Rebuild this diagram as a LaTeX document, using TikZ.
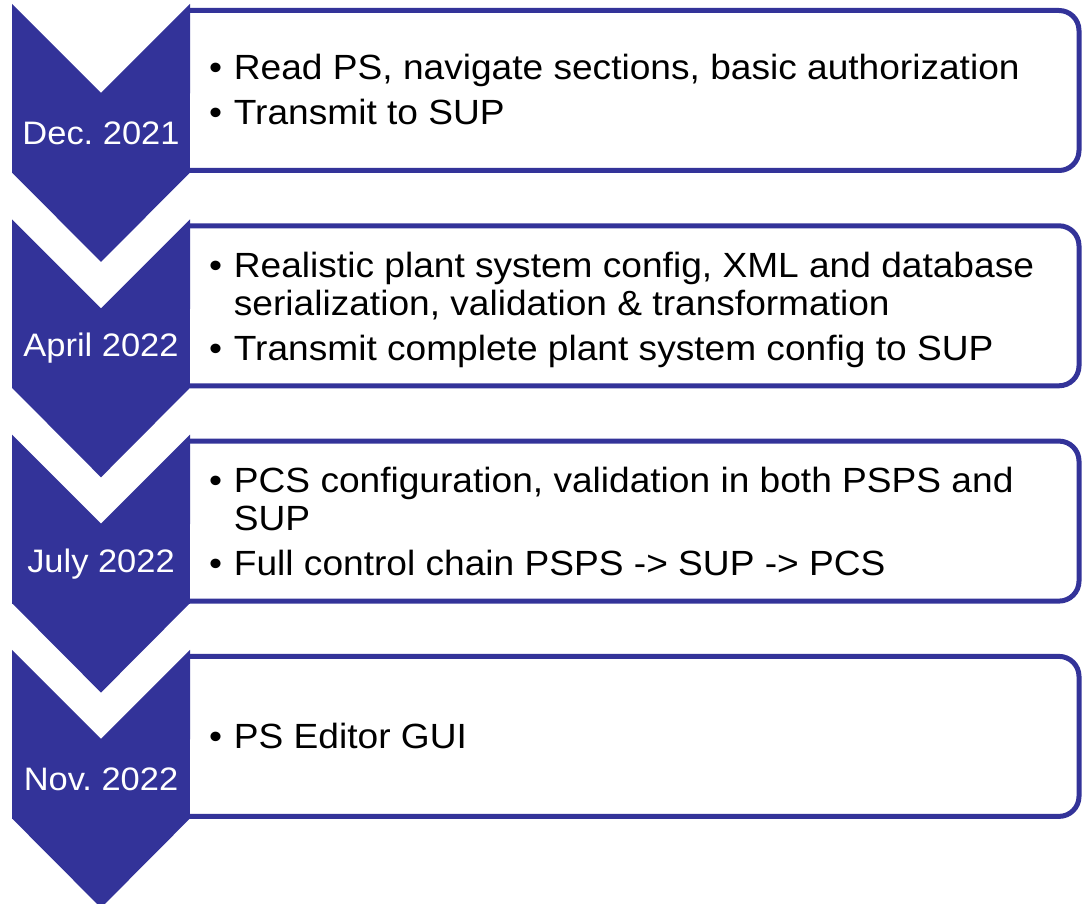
\documentclass[tikz,border=0pt]{standalone}
\usepackage{fontspec}
\setmainfont[FakeStretch=1.06]{Liberation Sans}
\frenchspacing
\usetikzlibrary{calc}
\definecolor{ppblue}{RGB}{51,51,153}
\tikzstyle{datebox} = [rectangle, minimum width=178pt, minimum height=80pt, inner sep=0pt, outer sep=0pt, text centered, fill=ppblue, text=white, font=\fontsize{32.5pt}{36pt}\selectfont]
\tikzstyle{stagebox} = [rectangle, minimum width=889pt, minimum height=160pt, inner sep=0pt, outer sep=0pt]
\tikzstyle{boxline} = [draw=ppblue, line width=5pt, rounded corners=20pt]
\tikzstyle{items} = [anchor=base west, inner sep=0pt, align=left, font=\fontsize{35pt}{38pt}\selectfont]
\newcommand{\itm}{\textbullet}

\begin{document}
\begin{tikzpicture}[x=1pt, y=1pt, node distance=215.3pt]
\useasboundingbox (0,0) rectangle (1082,-904);

\node (boxdec) [stagebox] at (634.5,-90.5) {};
\node (boxapr) [stagebox, below of=boxdec] {};
\node (boxjul) [stagebox, below of=boxapr] {};
\node (boxnov) [stagebox, below of=boxjul] {};

\draw [boxline] (boxdec.north west) -- (boxdec.north east) -- (boxdec.south east) -- (boxdec.south west);
\draw [boxline] (boxapr.north west) -- (boxapr.north east) -- (boxapr.south east) -- (boxapr.south west);
\draw [boxline] (boxjul.north west) -- (boxjul.north east) -- (boxjul.south east) -- (boxjul.south west);
\draw [boxline] (boxnov.north west) -- (boxnov.north east) -- (boxnov.south east) -- (boxnov.south west);

\node (dec) [datebox] at (101,-133) {Dec. 2021};
\node (apr) [datebox, below of=dec] {April 2022};
\node (jul) [datebox, below of=apr] {July 2022};
\node (nov) [datebox, below of=jul] {Nov. 2022};

% chevron ends
\foreach \d in {dec,apr,jul,nov} {
  \fill [ppblue] ([yshift=-0.5pt]\d.north west) -- ++(0,89.5) -- (\d.north) -- ($(\d.north east)+(0,89)$) -- ([yshift=-0.5pt]\d.north east) -- cycle;
  \fill [ppblue] ([yshift=0.5pt]\d.south west) -- ([yshift=0.5pt]\d.south east) -- ($(\d.south)+(0,-89)$) -- cycle;
}

\node (txtdec) [items] at (209,-80) {\begin{tabular}[t]{@{}l@{\hspace{11.75pt}}l@{}}
\itm & Read PS, navigate sections, basic authorization\\[7pt]
\itm & Transmit to SUP
\end{tabular}};
\node (txtapr) [items] at (209,-277) {\begin{tabular}[t]{@{}l@{\hspace{11.75pt}}l@{}}
\itm & Realistic plant system config, XML and database\\
 & serialization, validation \& transformation\\[7pt]
\itm & Transmit complete plant system config to SUP
\end{tabular}};
\node (txtjul) [items] at (209,-492) {\begin{tabular}[t]{@{}l@{\hspace{11.75pt}}l@{}}
\itm & PCS configuration, validation in both PSPS and\\
 & SUP\\[7pt]
\itm & Full control chain PSPS -> SUP -> PCS
\end{tabular}};
\node (txtnov) [items] at (209,-748) {\begin{tabular}[t]{@{}l@{\hspace{11.75pt}}l@{}}
\itm & PS Editor GUI
\end{tabular}};

\end{tikzpicture}
\end{document}
